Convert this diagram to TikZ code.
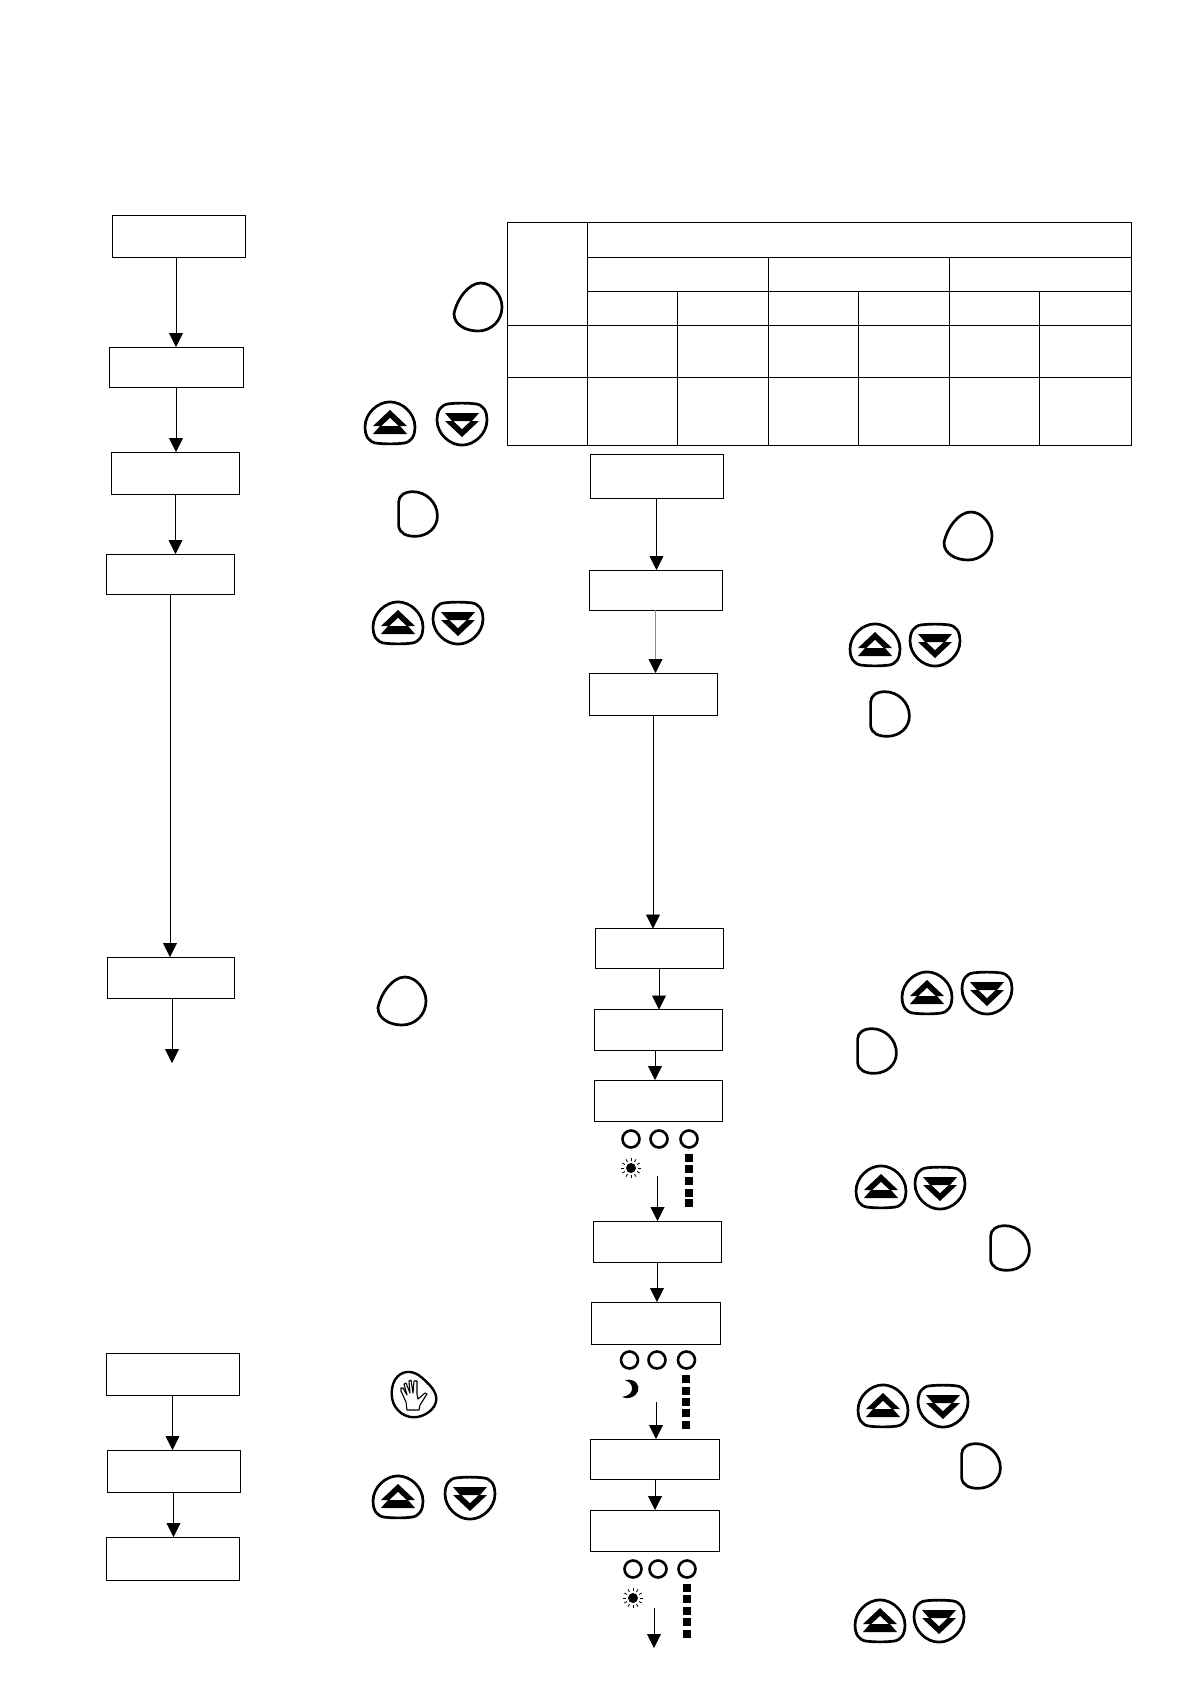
\documentclass[tikz,border=0pt]{standalone}
\usetikzlibrary{arrows.meta,calc}
\tikzset{
  box/.style={draw=black,line width=1pt,inner sep=0pt,outer sep=0pt,fill=white},
  flow/.style={draw=black,line width=.9pt,-{Triangle[width=14pt,length=14pt]}},
  flowthin/.style={draw=black!45,line width=.8pt,-{Triangle[width=14pt,length=14pt,color=black,fill=black]}},
  gridline/.style={draw=black,line width=.9pt},
  blob/.style={draw=black,line width=2.7pt,line join=round},
  led/.style={draw=black,line width=2.6pt},
  sq/.style={fill=black,draw=none,minimum size=7.5pt,inner sep=0pt,outer sep=0pt},
  pics/upbtn/.style={code={
    \path[blob,scale=.96] (-26,4) .. controls (-26,-10) and (-13,-22) .. (0,-22) .. controls (13,-22) and (26,-10) .. (26,4)
      .. controls (26,14) and (22,20) .. (14,21) .. controls (5,22) and (-5,22) .. (-14,21) .. controls (-22,20) and (-26,14) .. (-26,4) -- cycle;
    \fill[black] (0,-13) -- (17,3) -- (-17,3) -- cycle;
    \fill[white] (0,-5) -- (8.5,3) -- (-8.5,3) -- cycle;
    \fill[black] (-10,3) -- (10,3) -- (17,11) -- (-17,11) -- cycle;
  }},
  pics/downbtn/.style={code={
    \begin{scope}[yscale=-1]
    \path[blob,scale=.96] (-26,4) .. controls (-26,-10) and (-13,-22) .. (0,-22) .. controls (13,-22) and (26,-10) .. (26,4)
      .. controls (26,14) and (22,20) .. (14,21) .. controls (5,22) and (-5,22) .. (-14,21) .. controls (-22,20) and (-26,14) .. (-26,4) -- cycle;
    \fill[black] (0,-13) -- (17,3) -- (-17,3) -- cycle;
    \fill[white] (0,-5) -- (8.5,3) -- (-8.5,3) -- cycle;
    \fill[black] (-10,3) -- (10,3) -- (17,11) -- (-17,11) -- cycle;
    \end{scope}
  }},
  pics/roundbtn/.style={code={
    \path[blob,scale=.96] (-25,7) .. controls (-22,-8) and (-10,-25) .. (3,-25) .. controls (15,-25) and (25,-12) .. (25,0)
      .. controls (25,14) and (14,25) .. (0,25) .. controls (-12,25) and (-25,19) .. (-25,7) -- cycle;
  }},
  pics/dbtn/.style={code={
    \path[blob,scale=.97] (-20,-12) .. controls (-20,-19) and (-14,-23) .. (-5,-23) .. controls (8,-23) and (20,-12) .. (20,2)
      .. controls (20,14) and (10,23) .. (-3,23) .. controls (-12,23) and (-19,20) .. (-20,12) -- cycle;
  }},
  pics/handbtn/.style={code={
    \path[blob,line width=2.4pt,scale=.97] (-17,-18) .. controls (-10,-25) and (0,-24) .. (8,-17) .. controls (16,-10) and (23,-3) .. (23,5)
      .. controls (23,16) and (10,24) .. (0,24) .. controls (-12,24) and (-23,14) .. (-23,0) .. controls (-23,-8) and (-21,-14) .. (-17,-18) -- cycle;
    \draw[black,line width=1.1pt,line join=round]
      (-7,16) -- (-8,8) -- (-13,-3) -- (-13,-6) -- (-11,-6) -- (-7,1)
      -- (-10,-10) -- (-8,-11) -- (-4,-1) -- (-5,-13) -- (-3,-14) -- (-1,-1)
      -- (0,-13) -- (3,-13) -- (3,0) -- (4,5) -- (11,-1) -- (13,0) -- (6,11) -- (5,16) -- cycle;
  }},
  pics/sun/.style={code={
    \fill[black] (0,0) circle (5);
    \foreach \a in {0,30,...,330}{\draw[black,line width=.8pt] (\a:7) -- (\a:10);}
  }},
  pics/moon/.style={code={
    \fill[black] (-5,-9) .. controls (6,-11) and (10,-3) .. (8,2) .. controls (6,8) and (-2,11) .. (-8,8)
      .. controls (-1,7) and (3,3) .. (2,-2) .. controls (1,-6) and (-2,-8) .. (-5,-9) -- cycle;
  }},
}
\begin{document}
\begin{tikzpicture}[x=1pt,y=-1pt]
\useasboundingbox (0,0) rectangle (1190,1684);

% left column
\node[box,minimum width=133pt,minimum height=42pt] (l1) at (178.5,236) {};
\node[box,minimum width=134pt,minimum height=40pt] (l2) at (176,367) {};
\node[box,minimum width=128pt,minimum height=42pt] (l3) at (175.5,473) {};
\node[box,minimum width=128pt,minimum height=40pt] (l4) at (170,574) {};
\node[box,minimum width=127pt,minimum height=41pt] (l5) at (170.5,977.5) {};
\node[box,minimum width=133pt,minimum height=42pt] (l6) at (172.5,1374) {};
\node[box,minimum width=133pt,minimum height=42pt] (l7) at (173.5,1471) {};
\node[box,minimum width=133pt,minimum height=43pt] (l8) at (172.5,1558.5) {};
\coordinate (l5end) at (172,1063);
\draw[flow] (l1.south -| l2.north) -- (l2.north);
\draw[flow] (l2.south) -- (l2.south |- l3.north);
\draw[flow] (l3.south) -- (l3.south |- l4.north);
\draw[flow] (l4.south) -- (l4.south |- l5.north);
\draw[flow] (l5end |- l5.south) -- (l5end);
\draw[flow] (l6.south) -- (l6.south |- l7.north);
\draw[flow] (l7.south) -- (l7.south |- l8.north);

% middle column
\node[box,minimum width=133pt,minimum height=44pt] (m1) at (656.5,476) {};
\node[box,minimum width=133pt,minimum height=40pt] (m2) at (655.5,590) {};
\node[box,minimum width=128pt,minimum height=42pt] (m3) at (653,694) {};
\node[box,minimum width=128pt,minimum height=40pt] (m4) at (659,948.5) {};
\node[box,minimum width=128pt,minimum height=41pt] (m5) at (658,1030) {};
\node[box,minimum width=128pt,minimum height=41pt] (m6) at (658,1100.5) {};
\node[box,minimum width=128pt,minimum height=41pt] (m7) at (657,1241.5) {};
\node[box,minimum width=129pt,minimum height=42pt] (m8) at (655.5,1323) {};
\node[box,minimum width=129pt,minimum height=40pt] (m9) at (655,1459) {};
\node[box,minimum width=129pt,minimum height=41pt] (m10) at (655,1530.5) {};
\coordinate (c67) at (657.5,1176);
\coordinate (c89) at (656,1402);
\coordinate (c10a) at (654,1608);
\coordinate (c10b) at (654,1648);
\draw[flow] (m1.south) -- (m1.south |- m2.north);
\draw[flowthin] (m2.south) -- (m2.south |- m3.north);
\draw[flow] (m3.south) -- (m3.south |- m4.north);
\draw[flow] (m4.south) -- (m4.south |- m5.north);
\draw[flow] ([xshift=-3pt]m5.south) -- ([xshift=-3pt]m5.south |- m6.north);
\draw[flow] (c67) -- (c67 |- m7.north);
\draw[flow] (m7.south) -- (m7.south |- m8.north);
\draw[flow] (c89) -- (c89 |- m9.north);
\draw[flow] (m9.south) -- (m9.south |- m10.north);
\draw[flow] (c10a) -- (c10b);

% table
\draw[gridline] (507,222) rectangle (1131,445);
\draw[gridline] (587,222) -- (587,445);
\draw[gridline] (587,257) -- (1131,257);
\draw[gridline] (587,291) -- (1131,291);
\draw[gridline] (507,325) -- (1131,325);
\draw[gridline] (507,377) -- (1131,377);
\draw[gridline] (768,257) -- (768,445);
\draw[gridline] (949,257) -- (949,445);
\foreach \cx in {677,858,1039}{\draw[gridline] (\cx,291) -- (\cx,445);}

% buttons
\pic at (478,307) {roundbtn};
\pic at (418,514) {dbtn};
\pic at (968,536) {roundbtn};
\pic at (402,1001) {roundbtn};
\pic at (890,714) {dbtn};
\pic at (877,1051) {dbtn};
\pic at (1010,1248) {dbtn};
\pic at (981,1466) {dbtn};
\pic at (390,423) {upbtn};
\pic at (462,424) {downbtn};
\pic at (398,623) {upbtn};
\pic at (458,623) {downbtn};
\pic at (875,645) {upbtn};
\pic at (935,645) {downbtn};
\pic at (927,993) {upbtn};
\pic at (987,993) {downbtn};
\pic at (881,1187) {upbtn};
\pic at (940,1188) {downbtn};
\pic at (883,1406) {upbtn};
\pic at (943,1406) {downbtn};
\pic at (398,1497) {upbtn};
\pic at (470,1498) {downbtn};
\pic at (880,1621) {upbtn};
\pic at (939,1621) {downbtn};
\pic at (414,1394) {handbtn};

% indicators
\foreach \cx in {631,659,689}{\draw[led] (\cx,1139) circle (8.5);}
\foreach \cx in {629.5,657,686.5}{\draw[led] (\cx,1360) circle (8.5);}
\foreach \cx in {633,658,687}{\draw[led] (\cx,1569) circle (8.5);}
\pic at (631,1168) {sun};
\pic at (630,1389) {moon};
\pic at (633,1598) {sun};
\foreach \cy in {1158,1169,1181,1193,1203}{\node[sq] (sa\cy) at (689,\cy) {};}
\foreach \cy in {1379,1391,1402,1413,1425}{\node[sq] (sb\cy) at (686,\cy) {};}
\foreach \cy in {1588,1599,1611,1622,1634}{\node[sq] (sc\cy) at (687,\cy) {};}
\end{tikzpicture}
\end{document}
